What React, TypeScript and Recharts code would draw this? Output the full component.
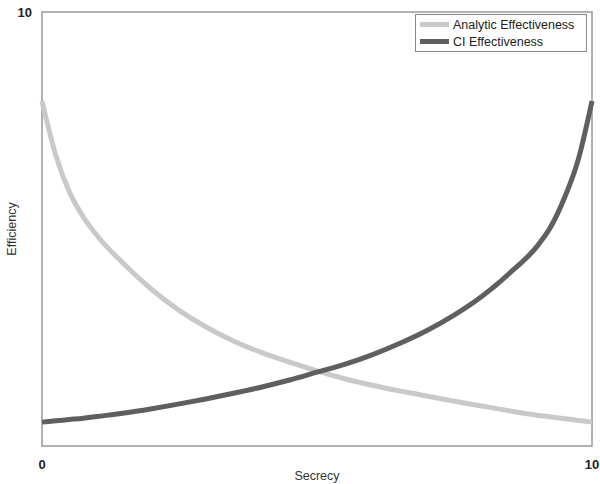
import { LineChart, Line, XAxis, YAxis, ReferenceArea } from "recharts";

const secrecy = [0, 0.25, 0.5, 0.75, 1, 1.5, 2, 2.5, 3, 3.5, 4, 4.5, 5, 5.5, 6, 6.5, 7, 7.5, 8, 8.5, 9, 9.25, 9.5, 9.75, 10];
const analytic = [7.95, 6.7, 5.85, 5.28, 4.85, 4.18, 3.6, 3.12, 2.73, 2.41, 2.15, 1.93, 1.73, 1.55, 1.4, 1.27, 1.15, 1.03, 0.92, 0.81, 0.71, 0.67, 0.63, 0.59, 0.55];
const ci = [0.55, 0.58, 0.61, 0.64, 0.68, 0.76, 0.86, 0.97, 1.09, 1.22, 1.36, 1.52, 1.7, 1.88, 2.1, 2.36, 2.66, 3.02, 3.45, 3.98, 4.6, 5.05, 5.72, 6.6, 7.95];
const xTicks = [0, 10];
const yTicks = [10];

const data = secrecy.map((s, i) => ({ s, analytic: analytic[i], ci: ci[i] }));

const FONT = '"Liberation Sans", Arial, sans-serif';

const legendItems = [
  { name: "Analytic Effectiveness", color: "#c9c9c9" },
  { name: "CI Effectiveness", color: "#5f5f5f" },
];

function LegendBox() {
  return (
    <div
      style={{
        position: "absolute",
        left: 415,
        top: 14,
        width: 158,
        border: "1px solid #8a8a8a",
        background: "#fff",
        padding: "1px 8px 1px 4px",
        fontFamily: FONT,
        fontSize: 12.5,
        color: "#222",
        whiteSpace: "nowrap",
      }}
    >
      {legendItems.map((it) => (
        <div key={it.name} style={{ display: "flex", alignItems: "center", height: 17 }}>
          <span style={{ display: "inline-block", width: 29, height: 5, background: it.color, marginRight: 4 }} />
          {it.name}
        </div>
      ))}
    </div>
  );
}

export default function App() {
  return (
    <div style={{ position: "absolute", left: 0, top: 0, width: 600, height: 484, background: "#fff" }}>
      <LineChart width={600} height={484} data={data} margin={{ top: 12, right: 8, left: 0, bottom: 0 }}>
        <ReferenceArea x1={0} x2={10} y1={0} y2={10} fill="none" stroke="#999" strokeWidth={1.5} />
        <XAxis
          dataKey="s"
          type="number"
          domain={[0, 10]}
          ticks={xTicks}
          axisLine={false}
          tickLine={false}
          tickMargin={8}
          height={38}
          tick={{ fill: "#222", fontSize: 13, fontFamily: FONT, fontWeight: 600 }}
          label={{ value: "Secrecy", position: "insideBottom", offset: 4, style: { fill: "#333", fontSize: 12.5, fontFamily: FONT } }}
        />
        <YAxis
          type="number"
          domain={[0, 10]}
          ticks={yTicks}
          axisLine={false}
          tickLine={false}
          tickMargin={4}
          width={42}
          tick={{ fill: "#222", fontSize: 13, fontFamily: FONT, fontWeight: 600 }}
          label={{
            value: "Efficiency",
            angle: -90,
            position: "insideLeft",
            offset: 12,
            style: { textAnchor: "middle", fill: "#333", fontSize: 12.5, fontFamily: FONT },
          }}
        />
        <Line
          type="monotone"
          dataKey="analytic"
          name="Analytic Effectiveness"
          stroke="#c9c9c9"
          strokeWidth={5}
          dot={false}
          isAnimationActive={false}
        />
        <Line
          type="monotone"
          dataKey="ci"
          name="CI Effectiveness"
          stroke="#5f5f5f"
          strokeWidth={5}
          dot={false}
          isAnimationActive={false}
        />
      </LineChart>
      <LegendBox />
    </div>
  );
}
